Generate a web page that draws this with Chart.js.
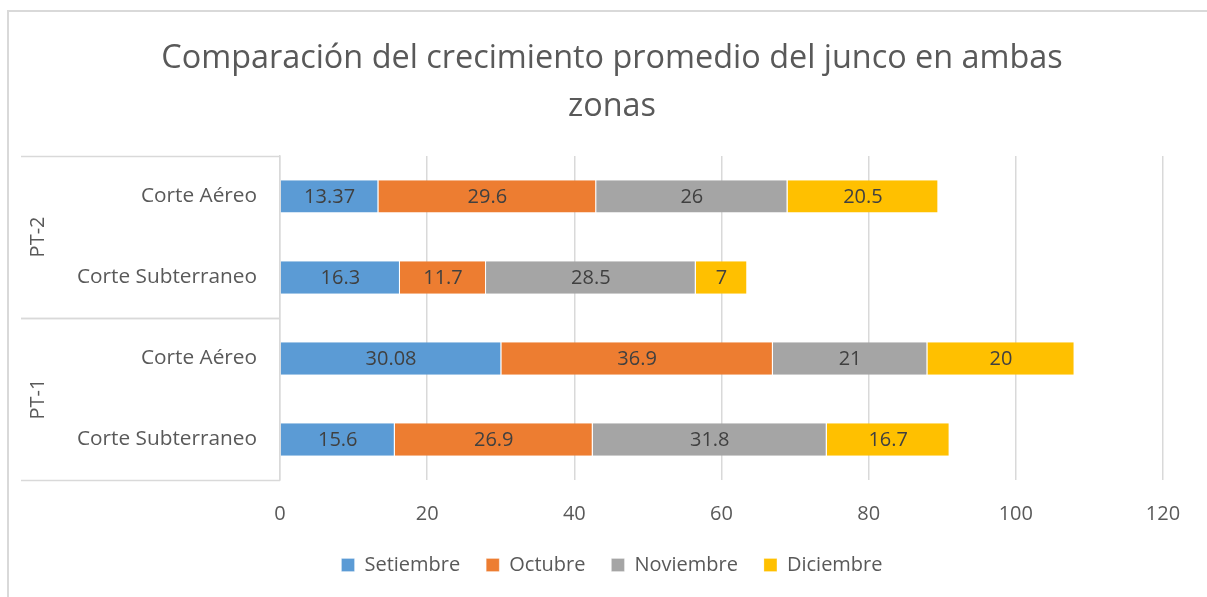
<!DOCTYPE html>
<html>
<head>
<meta charset="utf-8">
<script src="https://cdn.jsdelivr.net/npm/chart.js@4/dist/chart.umd.min.js"></script>
<style>
  html, body { margin: 0; padding: 0; background: #fff; overflow: hidden; }
  #wrap { width: 1207px; height: 597px; }
</style>
</head>
<body>
<div id="wrap"><canvas id="juncoChart" width="1207" height="597"></canvas></div>
<script>
// categories (top to bottom) and the group each one belongs to
const categories = ['Corte Aéreo', 'Corte Subterraneo', 'Corte Aéreo', 'Corte Subterraneo'];
const groups = ['PT-2', 'PT-2', 'PT-1', 'PT-1'];

// series values, same order as categories
const setiembre = [13.37, 16.3, 30.08, 15.6];
const octubre = [29.6, 11.7, 36.9, 26.9];
const noviembre = [26, 28.5, 21, 31.8];
const diciembre = [20.5, 7, 20, 16.7];

const xTicks = [0, 20, 40, 60, 80, 100, 120];

const FONT = "'Open Sans', 'Segoe UI', sans-serif";
const TEXT = '#595959';
const LINE = '#d9d9d9';

// outer frame of the chart (right and bottom edges fall outside the picture)
const framePlugin = {
  id: 'frame',
  beforeDraw(chart) {
    const c = chart.ctx;
    c.save();
    c.fillStyle = '#fff';
    c.fillRect(0, 0, chart.width, chart.height);
    c.strokeStyle = LINE;
    c.lineWidth = 2;
    c.beginPath();
    c.moveTo(8, chart.height + 5);
    c.lineTo(8, 11);
    c.lineTo(chart.width + 5, 11);
    c.stroke();
    c.restore();
  }
};

// group labels (PT-2 / PT-1) with the separator lines at the left
const groupPlugin = {
  id: 'groups',
  afterDraw(chart) {
    const c = chart.ctx;
    const y = chart.scales.y;
    const area = chart.chartArea;
    const x0 = 21, x1 = area.left;
    // find the start/end index of each group
    let spans = [];
    groups.forEach((g, i) => {
      if (i === 0 || groups[i - 1] !== g) spans.push({name: g, from: i, to: i});
      else spans[spans.length - 1].to = i;
    });
    c.save();
    c.strokeStyle = LINE;
    c.lineWidth = 1.5;
    c.fillStyle = TEXT;
    c.font = '20px ' + FONT;
    c.textAlign = 'center';
    c.textBaseline = 'middle';
    spans.forEach((s) => {
      const half = (y.getPixelForValue(1) - y.getPixelForValue(0)) / 2;
      const top = y.getPixelForValue(s.from) - half;
      const bot = y.getPixelForValue(s.to) + half;
      c.beginPath();
      c.moveTo(x0, Math.round(top) + 0.5);
      c.lineTo(x1, Math.round(top) + 0.5);
      c.moveTo(x0, Math.round(bot) + 0.5);
      c.lineTo(x1, Math.round(bot) + 0.5);
      c.stroke();
      c.save();
      c.translate(38, (top + bot) / 2);
      c.rotate(-Math.PI / 2);
      c.fillText(s.name, 0, 0);
      c.restore();
    });
    c.restore();
  }
};

// value labels in the middle of each segment
const labelPlugin = {
  id: 'segLabels',
  afterDatasetsDraw(chart) {
    const c = chart.ctx;
    c.save();
    c.fillStyle = '#404040';
    c.font = '20px ' + FONT;
    c.textAlign = 'center';
    c.textBaseline = 'middle';
    chart.data.datasets.forEach((ds, di) => {
      chart.getDatasetMeta(di).data.forEach((bar, i) => {
        const v = ds.data[i];
        c.fillText(String(v), (bar.x + bar.base) / 2, bar.y + 1);
      });
    });
    c.restore();
  }
};

const series = [
  {label: 'Setiembre', data: setiembre, color: '#5b9bd5'},
  {label: 'Octubre', data: octubre, color: '#ed7d31'},
  {label: 'Noviembre', data: noviembre, color: '#a5a5a5'},
  {label: 'Diciembre', data: diciembre, color: '#ffc000'}
];

const ctx = document.getElementById('juncoChart');
new Chart(ctx, {
  type: 'bar',
  data: {
    labels: categories,
    datasets: series.map(s => ({
      label: s.label,
      data: s.data,
      backgroundColor: s.color,
      borderColor: '#ffffff',
      borderWidth: {top: 0, bottom: 0, left: 0, right: 1},
      borderSkipped: false,
      categoryPercentage: 0.4,
      barPercentage: 1
    }))
  },
  options: {
    indexAxis: 'y',
    responsive: false,
    animation: false,
    layout: {padding: {left: 61, right: 44, top: 0, bottom: 12}},
    plugins: {
      title: {
        display: true,
        text: ['Comparación del crecimiento promedio del junco en ambas', 'zonas'],
        color: TEXT,
        font: {family: FONT, size: 32.4, weight: 'normal', lineHeight: 1.48},
        padding: {top: 35, bottom: 25}
      },
      legend: {
        position: 'bottom',
        labels: {
          color: TEXT,
          font: {family: FONT, size: 20},
          boxWidth: 13,
          boxHeight: 13,
          padding: 26
        }
      },
      tooltip: {enabled: false}
    },
    scales: {
      x: {
        stacked: true,
        min: xTicks[0],
        max: xTicks[xTicks.length - 1],
        afterBuildTicks(scale) {
          scale.ticks = xTicks.map(v => ({value: v}));
        },
        afterFit(scale) { scale.height = 49; },
        grid: {color: LINE, lineWidth: 1.5, drawTicks: false},
        border: {display: false},
        ticks: {color: TEXT, font: {family: FONT, size: 20}, padding: 22}
      },
      y: {
        stacked: true,
        afterFit(scale) { scale.width = 280 - 61; },
        grid: {display: false, drawTicks: false},
        border: {display: true, color: LINE, width: 1.5},
        ticks: {color: TEXT, font: {family: FONT, size: 20.8}, padding: 23}
      }
    }
  },
  plugins: [framePlugin, labelPlugin, groupPlugin]
});
</script>
</body>
</html>
